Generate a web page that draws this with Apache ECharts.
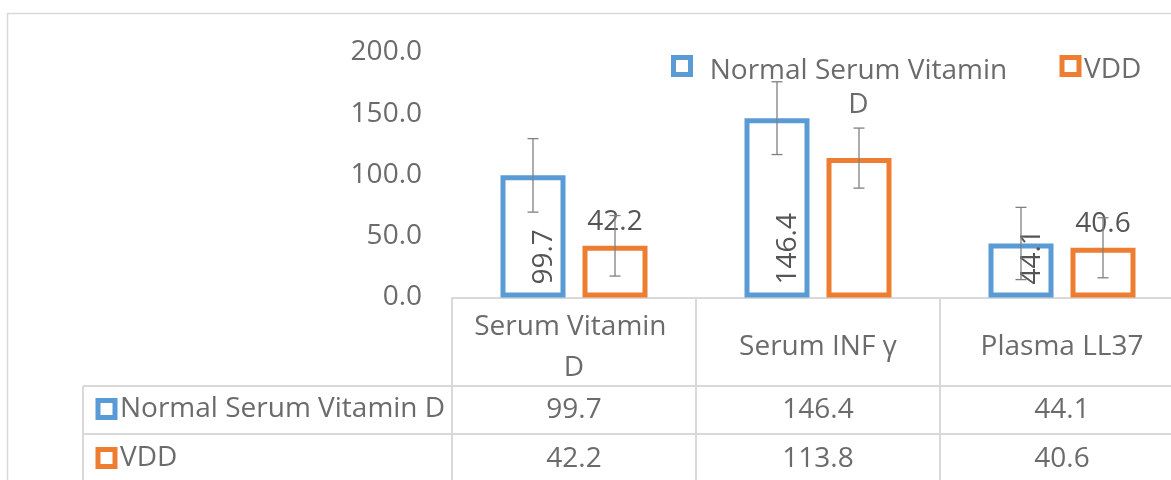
<!DOCTYPE html>
<html>
<head>
<meta charset="utf-8">
<title>Vitamin D, INF γ and LL37</title>
<script src="https://cdn.jsdelivr.net/npm/echarts@6/dist/echarts.min.js"></script>
<style>
  html, body { margin: 0; padding: 0; background: #fff; overflow: hidden; }
  /* the original is cut off at its right edge, so the chart is wider than the window */
  #chart { width: 1200px; height: 480px; }
</style>
</head>
<body>
<div id="chart"></div>
<script>
// data
var categories = ['Serum Vitamin D', 'Serum INF γ', 'Plasma LL37']
var seriesNames = ['Normal Serum Vitamin D', 'VDD']
var normalValues = [99.7, 146.4, 44.1]
var vddValues = [42.2, 113.8, 40.6]
// error bar half lengths (estimated)
var normalErrors = [30.0, 29.7, 29.5]
var vddErrors = [24.7, 24.5, 24.5]
// the middle VDD bar has no value label in the original
var vddLabelShown = [true, false, true]
var yTicks = [0, 50, 100, 150, 200]

var BLUE = '#5b9bd5'
var ORANGE = '#ed7d31'
var TEXT = '#6b6b6b'
var LABEL = '#555555'
var LINE = '#d9d9d9'
var FONT = '"Open Sans", "Noto Sans", sans-serif'
// echarts keeps the bar border inside the bar, so this is the outer width
var BAR_W = 65
var BAR_GAP_PX = 17

var chart = echarts.init(document.getElementById('chart'))

function fmt(v) {
  return Number(v).toFixed(1)
}

// error bars drawn through the axes, shifted onto the bar of each series
function errorSeries(name, values, errors, side) {
  return {
    type: 'custom',
    name: name,
    z: 5,
    data: values.map(function (v, i) { return [i, v, errors[i]] }),
    encode: {x: 0, y: 1},
    renderItem: function (params, api) {
      var i = api.value(0)
      var v = api.value(1)
      var e = api.value(2)
      var x = api.coord([i, v])[0] + side * (BAR_W + BAR_GAP_PX) / 2
      var yTop = api.coord([i, v + e])[1]
      var yBot = api.coord([i, v - e])[1]
      var cap = 5.5
      var style = {stroke: '#808080', lineWidth: 1.3}
      return {
        type: 'group',
        children: [
          {type: 'line', shape: {x1: x, y1: yTop, x2: x, y2: yBot}, style: style},
          {type: 'line', shape: {x1: x - cap, y1: yTop, x2: x + cap, y2: yTop}, style: style},
          {type: 'line', shape: {x1: x - cap, y1: yBot, x2: x + cap, y2: yBot}, style: style}
        ]
      }
    }
  }
}

var legendText = {color: TEXT, fontSize: 28, fontFamily: FONT}

var option = {
  backgroundColor: '#fff',
  animation: false,
  grid: {left: 452, top: 52.5, width: 732, height: 245, containLabel: false},
  legend: [
    {
      // legend above the bars
      left: 671,
      top: 55,
      padding: 0,
      icon: 'rect',
      itemWidth: 17,
      itemHeight: 17,
      itemGap: 51,
      selectedMode: false,
      itemStyle: {borderWidth: 5},
      data: [
        {name: seriesNames[0], textStyle: {padding: [45, 0, 0, 0]}},
        {name: seriesNames[1], textStyle: {padding: [9, 0, 0, 0]}}
      ],
      formatter: function (name) {
        if (name === seriesNames[0]) {
          return '{p| }{a|Normal Serum Vitamin}\n{p| }{a|D}'
        }
        return name
      },
      textStyle: {
        color: TEXT, fontSize: 28, fontFamily: FONT,
        rich: {
          p: {width: 13, fontSize: 28, fontFamily: FONT, lineHeight: 34},
          a: {width: 300, align: 'center', color: TEXT, fontSize: 28, fontFamily: FONT, lineHeight: 34}
        }
      }
    },
    {
      // row headers of the data table
      left: 95.5,
      top: 395,
      padding: 0,
      icon: 'rect',
      itemWidth: 17,
      itemHeight: 17,
      selectedMode: false,
      itemStyle: {borderWidth: 5},
      textStyle: legendText,
      data: [seriesNames[0]]
    },
    {
      left: 95.5,
      top: 444,
      padding: 0,
      icon: 'rect',
      itemWidth: 17,
      itemHeight: 17,
      selectedMode: false,
      itemStyle: {borderWidth: 5},
      textStyle: legendText,
      data: [seriesNames[1]]
    }
  ],
  xAxis: [
    {
      type: 'category',
      data: categories,
      axisLine: {lineStyle: {color: LINE, width: 2}},
      axisTick: {show: true, interval: 0, length: 200, lineStyle: {color: LINE, width: 2}},
      axisLabel: {
        interval: 0,
        color: TEXT, fontSize: 28, fontFamily: FONT,
        margin: 50, verticalAlign: 'middle', lineHeight: 41,
        width: 200, overflow: 'break'
      }
    },
    {
      // first data table row
      type: 'category',
      position: 'bottom',
      offset: 113,
      data: normalValues.map(fmt),
      axisLine: {show: false},
      axisTick: {show: false},
      axisLabel: {interval: 0, color: TEXT, fontSize: 28, fontFamily: FONT, margin: 0, verticalAlign: 'middle'}
    },
    {
      // second data table row
      type: 'category',
      position: 'bottom',
      offset: 162,
      data: vddValues.map(fmt),
      axisLine: {show: false},
      axisTick: {show: false},
      axisLabel: {interval: 0, color: TEXT, fontSize: 28, fontFamily: FONT, margin: 0, verticalAlign: 'middle'}
    }
  ],
  yAxis: {
    type: 'value',
    min: yTicks[0],
    max: yTicks[yTicks.length - 1],
    interval: yTicks[1] - yTicks[0],
    axisLine: {show: false},
    axisTick: {show: false},
    splitLine: {show: false},
    axisLabel: {color: TEXT, fontSize: 28, fontFamily: FONT, margin: 30, formatter: fmt}
  },
  series: [
    {
      name: seriesNames[0],
      type: 'bar',
      barWidth: BAR_W,
      barGap: (BAR_GAP_PX / BAR_W * 100) + '%',
      data: normalValues,
      itemStyle: {color: '#fff', borderColor: BLUE, borderWidth: 5},
      label: {
        show: true,
        position: 'insideBottom',
        rotate: 90,
        align: 'left',
        verticalAlign: 'middle',
        distance: 13,
        offset: [0, 11],
        color: LABEL,
        fontSize: 28,
        fontFamily: FONT,
        formatter: function (p) { return fmt(p.value) }
      }
    },
    {
      name: seriesNames[1],
      type: 'bar',
      barWidth: BAR_W,
      data: vddValues.map(function (v, i) {
        return {value: v, label: {show: vddLabelShown[i]}}
      }),
      itemStyle: {color: '#fff', borderColor: ORANGE, borderWidth: 5},
      label: {
        show: true,
        position: 'top',
        distance: 9.5,
        color: LABEL,
        fontSize: 28,
        fontFamily: FONT,
        formatter: function (p) { return fmt(p.value) }
      }
    },
    errorSeries('normalError', normalValues, normalErrors, -1),
    errorSeries('vddError', vddValues, vddErrors, 1)
  ],
  graphic: [
    // chart frame and the table rules left of the plot
    {type: 'rect', silent: true, shape: {x: 7.5, y: 13.5, width: 1300, height: 600},
      style: {fill: 'none', stroke: LINE, lineWidth: 1.5}},
    {type: 'line', silent: true, shape: {x1: 83, y1: 386, x2: 1200, y2: 386},
      style: {stroke: LINE, lineWidth: 2}},
    {type: 'line', silent: true, shape: {x1: 83, y1: 434, x2: 1200, y2: 434},
      style: {stroke: LINE, lineWidth: 2}},
    {type: 'line', silent: true, shape: {x1: 83, y1: 386, x2: 83, y2: 500},
      style: {stroke: LINE, lineWidth: 2}}
  ]
}

chart.setOption(option)
</script>
</body>
</html>
